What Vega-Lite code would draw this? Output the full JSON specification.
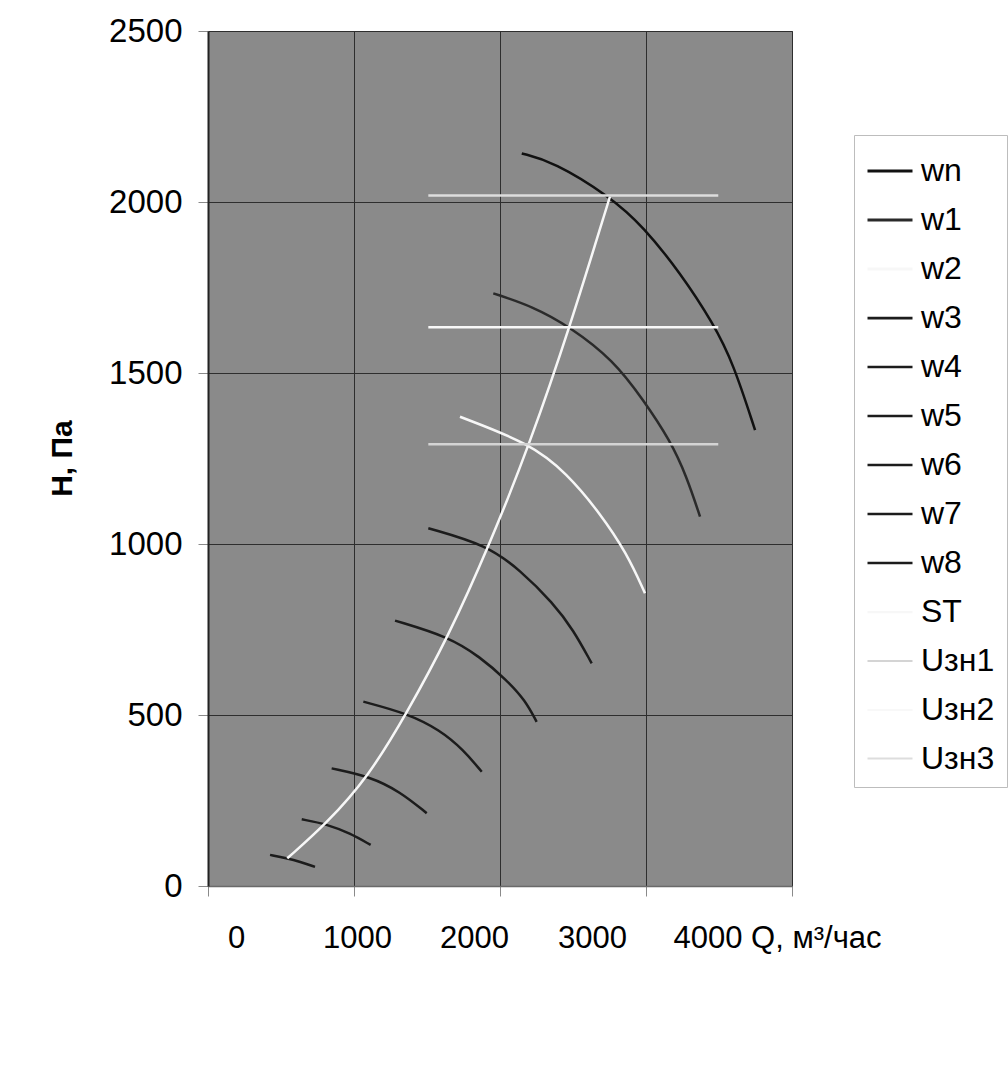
{
  "$schema": "https://vega.github.io/schema/vega-lite/v6.json",
  "autosize": {"type": "none"},
  "padding": {"left": 208, "top": 31, "right": 216, "bottom": 180},
  "width": 584,
  "height": 855,
  "background": "white",
  "config": {
    "font": "Liberation Sans",
    "view": {"fill": "#8a8a8a", "stroke": "#5a5a5a", "strokeWidth": 1}
  },
  "data": {
    "values": [
      {"s": "wn", "Q": 2149, "H": 2142}, {"s": "wn", "Q": 2365, "H": 2118}, {"s": "wn", "Q": 2753, "H": 2016}, {"s": "wn", "Q": 2982, "H": 1928}, {"s": "wn", "Q": 3236, "H": 1792}, {"s": "wn", "Q": 3461, "H": 1645}, {"s": "wn", "Q": 3598, "H": 1528}, {"s": "wn", "Q": 3747, "H": 1333},
      {"s": "w1", "Q": 1954, "H": 1733}, {"s": "w1", "Q": 2228, "H": 1694}, {"s": "w1", "Q": 2479, "H": 1635}, {"s": "w1", "Q": 2776, "H": 1538}, {"s": "w1", "Q": 2982, "H": 1421}, {"s": "w1", "Q": 3164, "H": 1304}, {"s": "w1", "Q": 3279, "H": 1197}, {"s": "w1", "Q": 3370, "H": 1080},
      {"s": "w2", "Q": 1726, "H": 1372}, {"s": "w2", "Q": 2205, "H": 1294}, {"s": "w2", "Q": 2457, "H": 1207}, {"s": "w2", "Q": 2685, "H": 1090}, {"s": "w2", "Q": 2868, "H": 973}, {"s": "w2", "Q": 2993, "H": 856},
      {"s": "w3", "Q": 1509, "H": 1046}, {"s": "w3", "Q": 1909, "H": 997}, {"s": "w3", "Q": 2137, "H": 924}, {"s": "w3", "Q": 2365, "H": 827}, {"s": "w3", "Q": 2502, "H": 749}, {"s": "w3", "Q": 2628, "H": 651},
      {"s": "w4", "Q": 1281, "H": 776}, {"s": "w4", "Q": 1646, "H": 729}, {"s": "w4", "Q": 1863, "H": 670}, {"s": "w4", "Q": 2046, "H": 602}, {"s": "w4", "Q": 2171, "H": 544}, {"s": "w4", "Q": 2251, "H": 480},
      {"s": "w5", "Q": 1064, "H": 539}, {"s": "w5", "Q": 1361, "H": 505}, {"s": "w5", "Q": 1589, "H": 456}, {"s": "w5", "Q": 1749, "H": 398}, {"s": "w5", "Q": 1875, "H": 334},
      {"s": "w6", "Q": 847, "H": 344}, {"s": "w6", "Q": 1110, "H": 320}, {"s": "w6", "Q": 1315, "H": 276}, {"s": "w6", "Q": 1498, "H": 213},
      {"s": "w7", "Q": 642, "H": 195}, {"s": "w7", "Q": 813, "H": 181}, {"s": "w7", "Q": 973, "H": 154}, {"s": "w7", "Q": 1114, "H": 120},
      {"s": "w8", "Q": 425, "H": 91}, {"s": "w8", "Q": 539, "H": 81}, {"s": "w8", "Q": 630, "H": 71}, {"s": "w8", "Q": 733, "H": 56},
      {"s": "ST", "Q": 543, "H": 81}, {"s": "ST", "Q": 808, "H": 181}, {"s": "ST", "Q": 1098, "H": 319}, {"s": "ST", "Q": 1361, "H": 505}, {"s": "ST", "Q": 1646, "H": 729}, {"s": "ST", "Q": 1932, "H": 1002}, {"s": "ST", "Q": 2205, "H": 1294}, {"s": "ST", "Q": 2479, "H": 1635}, {"s": "ST", "Q": 2753, "H": 2016},
      {"s": "Uзн1", "Q": 1509, "H": 1292}, {"s": "Uзн1", "Q": 3495, "H": 1292},
      {"s": "Uзн2", "Q": 1509, "H": 1634}, {"s": "Uзн2", "Q": 3495, "H": 1634},
      {"s": "Uзн3", "Q": 1509, "H": 2019}, {"s": "Uзн3", "Q": 3495, "H": 2019}
    ]
  },
  "mark": {"type": "line", "interpolate": "basis", "strokeWidth": 2.5},
  "encoding": {
    "x": {
      "field": "Q", "type": "quantitative",
      "scale": {"domain": [0, 4000], "nice": false},
      "axis": {
        "title": null,
        "values": [0, 1000, 2000, 3000, 4000],
        "format": "d",
        "labelExpr": "datum.value == 4000 ? '4000 Q, м³/час' : datum.label",
        "labelFont": "Liberation Sans", "labelFontSize": 31, "labelColor": "black",
        "labelFlush": false, "labelOverlap": false, "labelBound": false, "labelLimit": 500,
        "labelPadding": 27,
        "labelBaseline": "top",
        "labelAlign": {"condition": {"test": "datum.value == 4000", "value": "left"}, "value": "center"},
        "labelOffset": {"condition": [
          {"test": "datum.value == 0", "value": 28},
          {"test": "datum.value == 2000", "value": -26},
          {"test": "datum.value == 3000", "value": -54},
          {"test": "datum.value == 4000", "value": -119}
        ], "value": 3},
        "tickSize": 10, "tickColor": "#8a8a8a", "tickWidth": 1,
        "domainColor": "#6a6a6a", "domainWidth": 1.5,
        "grid": true, "gridColor": "#2e2e2e", "gridWidth": 1, "gridOpacity": 1
      }
    },
    "y": {
      "field": "H", "type": "quantitative",
      "scale": {"domain": [0, 2500], "nice": false},
      "axis": {
        "title": "H, Па",
        "titleFont": "Liberation Sans", "titleFontSize": 30, "titleFontWeight": "bold", "titleColor": "black",
        "titleX": -146, "titleY": 427, "titleAlign": "center", "titleBaseline": "middle", "titleAngle": -90,
        "values": [0, 500, 1000, 1500, 2000, 2500],
        "format": "d",
        "labelFont": "Liberation Sans", "labelFontSize": 33, "labelColor": "black",
        "labelFlush": false, "labelOverlap": false, "labelBound": false,
        "labelPadding": 16,
        "tickSize": 10, "tickColor": "#8a8a8a", "tickWidth": 1,
        "domainColor": "#222222", "domainWidth": 2,
        "grid": true, "gridColor": "#2e2e2e", "gridWidth": 1, "gridOpacity": 1
      }
    },
    "color": {
      "field": "s", "type": "nominal",
      "scale": {
        "domain": ["wn", "w1", "w2", "w3", "w4", "w5", "w6", "w7", "w8", "ST", "Uзн1", "Uзн2", "Uзн3"],
        "range": ["#111111", "#2a2a2a", "#f7f7f7", "#1c1c1c", "#1c1c1c", "#1c1c1c", "#1c1c1c", "#1c1c1c", "#1c1c1c", "#f7f7f7", "#d4d4d4", "#f8f8f8", "#dddddd"]
      },
      "legend": {
        "orient": "none", "legendX": 646, "legendY": 104,
        "title": null,
        "labelFont": "Liberation Sans", "labelFontSize": 32, "labelColor": "black",
        "symbolType": "stroke", "symbolSize": 2025, "symbolStrokeWidth": 2,
        "labelOffset": 7, "rowPadding": 9, "padding": 12,
        "strokeColor": "#bdbdbd", "fillColor": "white", "labelLimit": 300
      }
    },
    "strokeWidth": {
      "field": "s", "type": "nominal",
      "scale": {
        "domain": ["wn", "w1", "w2", "w3", "w4", "w5", "w6", "w7", "w8", "ST", "Uзн1", "Uзн2", "Uзн3"],
        "range": [3, 2, 2.5, 2.5, 2.5, 2.5, 2, 2, 2, 2.5, 2, 2.5, 2]
      },
      "legend": null
    }
  }
}
